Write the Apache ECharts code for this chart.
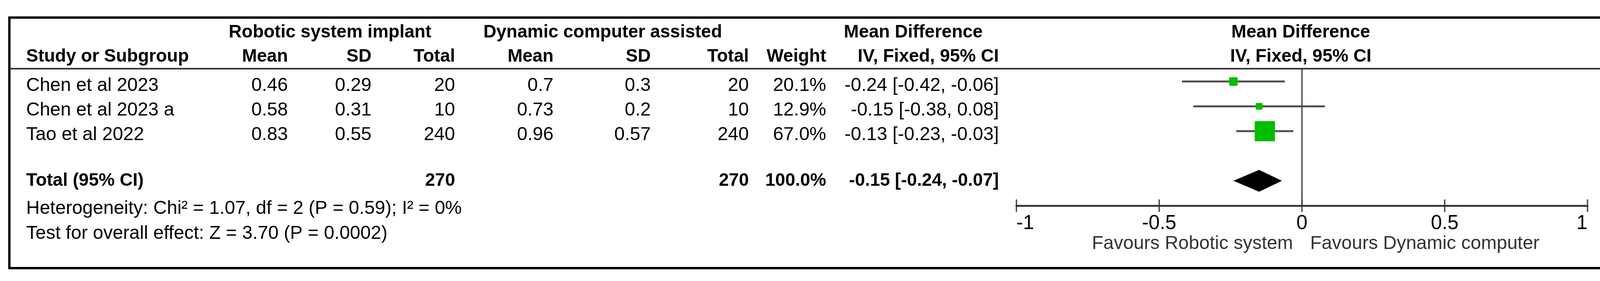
<!DOCTYPE html>
<html>
<head>
<meta charset="utf-8">
<script src="https://cdn.jsdelivr.net/npm/echarts@6/dist/echarts.min.js"></script>
<style>
html,body{margin:0;padding:0;background:#fff;overflow:hidden;}
#chart{width:4138px;height:720px;}
</style>
</head>
<body>
<div id="chart"></div>
<script>
// ---------- data ----------
const studies = ['Chen et al 2023', 'Chen et al 2023 a', 'Tao et al 2022'];
const roboticMean = [0.46, 0.58, 0.83];
const roboticSD = [0.29, 0.31, 0.55];
const roboticTotal = [20, 10, 240];
const dynamicMean = [0.7, 0.73, 0.96];
const dynamicSD = [0.3, 0.2, 0.57];
const dynamicTotal = [20, 10, 240];
const weights = [20.1, 12.9, 67.0];
const meanDiff = [-0.24, -0.15, -0.13];
const ciLow = [-0.42, -0.38, -0.23];
const ciHigh = [-0.06, 0.08, -0.03];
const totalLabel = 'Total (95% CI)';
const totalRobotic = 270;
const totalDynamic = 270;
const totalWeight = 100.0;
const totalMD = -0.15;
const totalLow = -0.24;
const totalHigh = -0.07;
const heterogeneityText = 'Heterogeneity: Chi\u00b2 = 1.07, df = 2 (P = 0.59); I\u00b2 = 0%';
const overallText = 'Test for overall effect: Z = 3.70 (P = 0.0002)';
const axisTicks = [-1, -0.5, 0, 0.5, 1];
const favoursLeft = 'Favours Robotic system';
const favoursRight = 'Favours Dynamic computer';
const groupHeaders = ['Robotic system implant', 'Dynamic computer assisted', 'Mean Difference', 'Mean Difference'];
const colHeaders = ['Study or Subgroup', 'Mean', 'SD', 'Total', 'Mean', 'SD', 'Total', 'Weight', 'IV, Fixed, 95% CI', 'IV, Fixed, 95% CI'];

// ---------- layout ----------
const FONT = '"Liberation Sans", Arial, sans-serif';
const REG = '48px ' + FONT;
const BOLD = 'bold 46px ' + FONT;
const colRight = [null, 737, 951, 1165, 1417, 1666, 1917, 2115, 2557];
const leftX = 67;
const rowTextY = [219.5, 282.5, 346];
const totalTextY = 463.5;
const TOTAL_ROW = 4;
const AXIS_ROW = 5;

const chart = echarts.init(document.getElementById('chart'), null, {renderer: 'canvas'});

function txt(x, y, text, font, align, color) {
  return {
    type: 'text', x: x, y: y, z: 10,
    style: {text: text, font: font, fill: color || '#000', textAlign: align || 'left',
            verticalAlign: 'middle', textVerticalAlign: 'middle'}
  };
}
function fmtCI(m, l, h) { return m.toFixed(2) + ' [' + l.toFixed(2) + ', ' + h.toFixed(2) + ']'; }

const graphics = [];
graphics.push({type: 'rect', z: 5, shape: {x: 24, y: 45, width: 4087, height: 642},
  style: {fill: 'none', stroke: '#000', lineWidth: 6}});
graphics.push({type: 'line', z: 5, shape: {x1: 24, y1: 176, x2: 4111, y2: 176},
  style: {stroke: '#333', lineWidth: 4}});
graphics.push(txt(845, 83.5, groupHeaders[0], BOLD, 'center'));
graphics.push(txt(1543, 83.5, groupHeaders[1], BOLD, 'center'));
graphics.push(txt(2338, 83.5, groupHeaders[2], BOLD, 'center'));
graphics.push(txt(3330, 83.5, groupHeaders[3], BOLD, 'center'));
graphics.push(txt(leftX, 145.5, colHeaders[0], BOLD, 'left'));
for (let c = 1; c <= 8; c++) graphics.push(txt(colRight[c], 145.5, colHeaders[c], BOLD, 'right'));
graphics.push(txt(3330, 145.5, colHeaders[9], BOLD, 'center'));
studies.forEach(function (s, i) {
  const y = rowTextY[i];
  const cells = [String(roboticMean[i]), String(roboticSD[i]), String(roboticTotal[i]),
    String(dynamicMean[i]), String(dynamicSD[i]), String(dynamicTotal[i]),
    weights[i].toFixed(1) + '%', fmtCI(meanDiff[i], ciLow[i], ciHigh[i])];
  graphics.push(txt(leftX, y, s, REG, 'left'));
  cells.forEach(function (t, k) { graphics.push(txt(colRight[k + 1], y, t, REG, 'right')); });
});
graphics.push(txt(leftX, totalTextY, totalLabel, BOLD, 'left'));
graphics.push(txt(colRight[3], totalTextY, String(totalRobotic), BOLD, 'right'));
graphics.push(txt(colRight[6], totalTextY, String(totalDynamic), BOLD, 'right'));
graphics.push(txt(colRight[7], totalTextY, totalWeight.toFixed(1) + '%', BOLD, 'right'));
graphics.push(txt(colRight[8], totalTextY, fmtCI(totalMD, totalLow, totalHigh), BOLD, 'right'));
graphics.push(txt(leftX, 535, heterogeneityText, REG, 'left'));
graphics.push(txt(leftX, 598.5, overallText, REG, 'left'));
graphics.push(txt(3310, 624.5, favoursLeft, REG, 'right', '#333'));
graphics.push(txt(3354, 624.5, favoursRight, REG, 'left', '#333'));

const studyData = studies.map(function (s, i) { return [meanDiff[i], ciLow[i], ciHigh[i], weights[i], i]; });

chart.setOption({
  animation: false,
  backgroundColor: '#fff',
  grid: {left: 2602, right: 4138 - 4064, top: 177, height: 350, containLabel: false},
  xAxis: {
    type: 'value', min: axisTicks[0], max: axisTicks[axisTicks.length - 1],
    interval: axisTicks[1] - axisTicks[0], position: 'bottom', splitLine: {show: false},
    axisLine: {show: true, onZero: false, lineStyle: {color: '#3a3a3a', width: 5}},
    axisTick: {show: false},
    axisLabel: {show: true, fontSize: 51, fontFamily: FONT, color: '#000', margin: 20,
      alignMinLabel: 'left', alignMaxLabel: 'right',
      formatter: function (v) { return String(v); }}
  },
  yAxis: {type: 'value', min: -0.5, max: AXIS_ROW, inverse: true, show: false},
  graphic: graphics,
  series: [
    {
      // line of no effect
      type: 'custom', z: 2, clip: false,
      data: [[0]],
      renderItem: function (params, api) {
        const a = api.coord([0, -0.5]);
        const b = api.coord([0, AXIS_ROW]);
        return {type: 'line', shape: {x1: a[0], y1: a[1], x2: b[0], y2: b[1]},
          style: {stroke: '#333', lineWidth: 3}};
      }
    },
    {
      // ticks crossing the axis line
      type: 'custom', z: 4, clip: false,
      data: axisTicks.map(function (t) { return [t]; }),
      encode: {x: 0},
      renderItem: function (params, api) {
        const p = api.coord([api.value(0), AXIS_ROW]);
        return {type: 'line', shape: {x1: p[0], y1: p[1] - 16, x2: p[0], y2: p[1] + 16},
          style: {stroke: '#333', lineWidth: 3}};
      }
    },
    {
      // study CIs and weighted squares
      type: 'custom', z: 3, clip: false,
      data: studyData,
      encode: {x: [0, 1, 2], y: 4},
      renderItem: function (params, api) {
        const m = api.value(0), lo = api.value(1), hi = api.value(2), w = api.value(3), r = api.value(4);
        const pl = api.coord([lo, r]);
        const ph = api.coord([hi, r]);
        const pm = api.coord([m, r]);
        const size = 9 + 0.64 * w;
        return {type: 'group', children: [
          {type: 'line', shape: {x1: pl[0], y1: pl[1], x2: ph[0], y2: ph[1]},
            style: {stroke: '#505050', lineWidth: 5}},
          {type: 'rect', shape: {x: pm[0] - size / 2, y: pm[1] - size / 2, width: size, height: size, r: 2},
            style: {fill: '#00BF00'}}
        ]};
      }
    },
    {
      // pooled diamond
      type: 'custom', z: 3, clip: false,
      data: [[totalMD, totalLow, totalHigh, TOTAL_ROW]],
      encode: {x: [0, 1, 2], y: 3},
      renderItem: function (params, api) {
        const m = api.value(0), lo = api.value(1), hi = api.value(2), r = api.value(3);
        const pl = api.coord([lo, r]), ph = api.coord([hi, r]), pm = api.coord([m, r]);
        const h = 28;
        return {type: 'polygon', shape: {points: [[pl[0], pl[1]], [pm[0], pm[1] - h], [ph[0], ph[1]], [pm[0], pm[1] + h]]},
          style: {fill: '#000'}};
      }
    }
  ]
});
</script>
</body>
</html>
